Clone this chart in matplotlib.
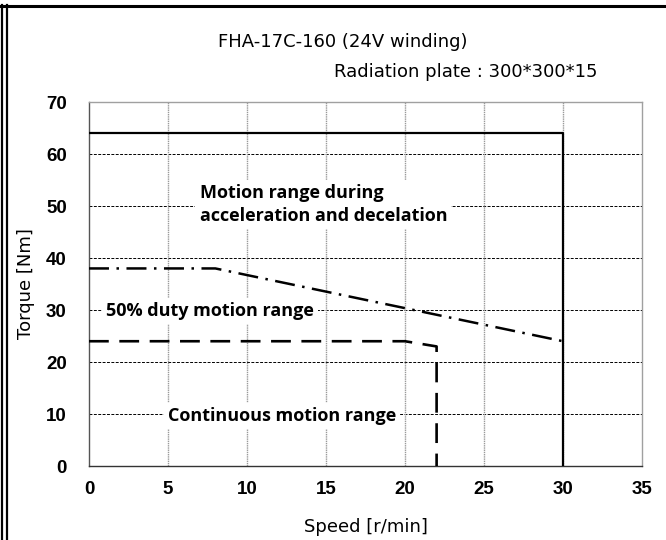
import matplotlib as mpl
mpl.use('Agg')
import matplotlib.pyplot as plt
from matplotlib.lines import Line2D

# torque-speed curves
max_speed = [0, 30, 30]
max_torque = [64, 64, 0]
duty_speed = [0, 8, 30]
duty_torque = [38, 38, 24]
cont_speed = [0, 20, 22, 22]
cont_torque = [24, 24, 23, 0]

x_ticks = [0, 5, 10, 15, 20, 25, 30, 35]
y_ticks = [0, 10, 20, 30, 40, 50, 60, 70]

title1 = 'FHA-17C-160 (24V winding)'
title2 = 'Radiation plate : 300*300*15'
lbl_max = 'Motion range during\nacceleration and decelation'
lbl_duty = '50% duty motion range'
lbl_cont = 'Continuous motion range'

jp = ['DejaVu Sans']
box = dict(facecolor='white', edgecolor='none', pad=3)

fig = plt.figure(figsize=(6.66, 5.4), dpi=100)
ax = fig.add_axes([0.1336, 0.137, 0.8304, 0.674])

# grid
for yv in y_ticks[1:-1]:
    ax.axhline(yv, color='black', lw=0.7, ls=(0, (3, 1.5)), zorder=0)
for xv in x_ticks[1:-1]:
    ax.axvline(xv, color='#9a9a9a', lw=1.0, ls=(0, (1, 0.6)), zorder=0)

ax.plot(max_speed, max_torque, color='black', lw=1.6, zorder=3)
ax.plot(duty_speed, duty_torque, color='black', lw=1.8,
        ls=(0, (8, 3, 1, 3)), zorder=3)
ax.plot(cont_speed, cont_torque, color='black', lw=1.9,
        ls=(0, (7.5, 4)), zorder=3)

tkw = dict(fontfamily='Open Sans', fontweight='bold', fontsize=13,
           bbox=box, zorder=2)
ax.text(7.0, 50.3, lbl_max, ha='left', va='center', linespacing=1.4, **tkw)
ax.text(1.1, 29.8, lbl_duty, ha='left', va='center', **tkw)
ax.text(5.0, 9.6, lbl_cont, ha='left', va='center', **tkw)

ax.set_xlim(0, 35)
ax.set_ylim(0, 70)
ax.set_xticks(x_ticks)
ax.set_yticks(y_ticks)
ax.tick_params(length=0, labelsize=13.5)
ax.tick_params(axis='x', pad=11)
ax.tick_params(axis='y', pad=16)
for t in ax.get_xticklabels() + ax.get_yticklabels():
    t.set_fontweight('bold')
    t.set_fontfamily('Liberation Sans')

ax.spines['left'].set_color('#555555')
ax.spines['bottom'].set_color('#333333')
ax.spines['top'].set_color('#a0a0a0')
ax.spines['right'].set_color('#a0a0a0')
for s in ax.spines.values():
    s.set_linewidth(1.0)

ax.set_xlabel('Speed [r/min]', family=jp, fontsize=13, labelpad=14)
ax.set_ylabel('Torque [Nm]', family=jp, fontsize=13, labelpad=8)

fig.text(0.514, 0.922, title1, family=jp, fontsize=13, ha='center', va='center')
fig.text(0.897, 0.866, title2, family=jp, fontsize=13, ha='right', va='center')

# outer frame
fig.add_artist(Line2D([0, 1], [0.9889, 0.9889], color='black', lw=2.2,
                      transform=fig.transFigure))
fig.add_artist(Line2D([0.003, 0.003], [0, 0.99], color='black', lw=1.6,
                      transform=fig.transFigure))
fig.add_artist(Line2D([0.0105, 0.0105], [0, 0.99], color='black', lw=1.6,
                      transform=fig.transFigure))

fig.savefig('out.png', dpi=100)
